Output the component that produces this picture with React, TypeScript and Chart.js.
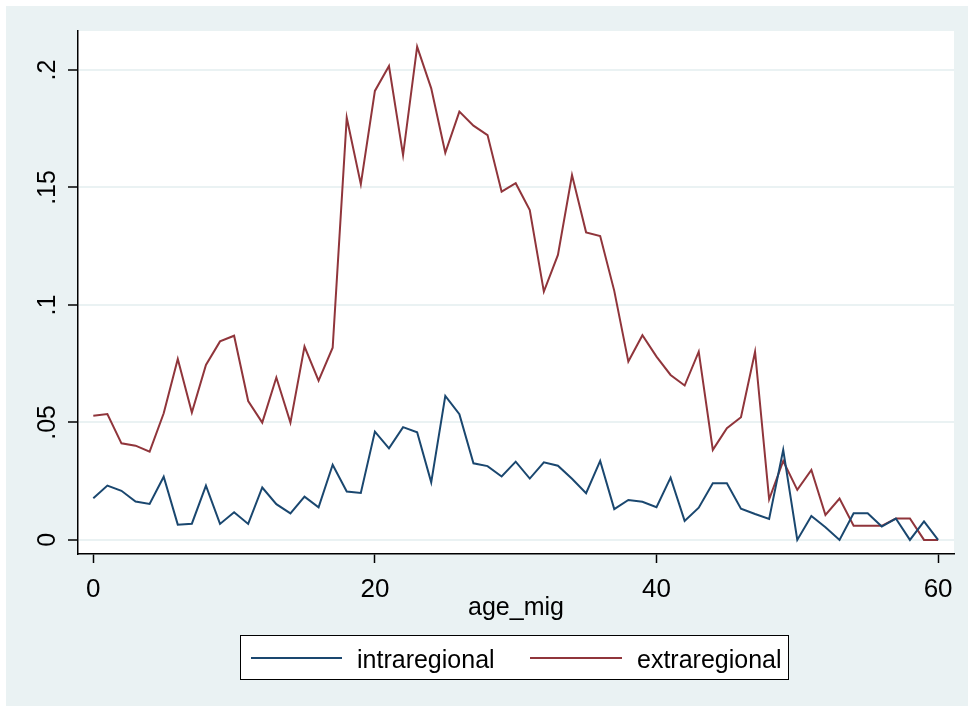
import React, { useEffect, useRef } from 'react';
import { Chart, registerables } from 'chart.js';

Chart.register(...registerables);

const ages = [
  0, 1, 2, 3, 4, 5, 6, 7, 8, 9, 10, 11, 12, 13, 14, 15, 16, 17, 18, 19, 20,
  21, 22, 23, 24, 25, 26, 27, 28, 29, 30, 31, 32, 33, 34, 35, 36, 37, 38, 39, 40,
  41, 42, 43, 44, 45, 46, 47, 48, 49, 50, 51, 52, 53, 54, 55, 56, 57, 58, 59, 60,
];

const intraregional = [
  0.0177, 0.0231, 0.0209, 0.0163, 0.0153, 0.0269, 0.0065, 0.0069, 0.0231, 0.0068,
  0.0118, 0.0068, 0.0223, 0.0152, 0.0113, 0.0184, 0.0139, 0.032, 0.0206, 0.02,
  0.0461, 0.039, 0.048, 0.0458, 0.0245, 0.0613, 0.0535, 0.0326, 0.0314, 0.027,
  0.0333, 0.0261, 0.033, 0.0316, 0.026, 0.0199, 0.0336, 0.0131, 0.017, 0.0162,
  0.0139, 0.0265, 0.0081, 0.0137, 0.0241, 0.0241, 0.0133, 0.011, 0.0089, 0.0383,
  0, 0.0102, 0.0054, 0, 0.0113, 0.0113, 0.0057, 0.0091, 0, 0.0079,
  0,
];

const extraregional = [
  0.0528, 0.0536, 0.0411, 0.0401, 0.0376, 0.0539, 0.077, 0.0542, 0.0745, 0.0845,
  0.0869, 0.0591, 0.0499, 0.0691, 0.0499, 0.0823, 0.0678, 0.0818, 0.1797, 0.1514,
  0.1911, 0.2017, 0.1638, 0.2099, 0.1922, 0.1648, 0.1823, 0.1763, 0.1723, 0.1482,
  0.1518, 0.1404, 0.1057, 0.1213, 0.1553, 0.1309, 0.1293, 0.106, 0.0759, 0.0871,
  0.078, 0.0702, 0.0657, 0.0801, 0.0383, 0.0475, 0.0522, 0.0801, 0.0173, 0.0336,
  0.0213, 0.0298, 0.0106, 0.0176, 0.006, 0.006, 0.006, 0.0091, 0.0091, 0,
  0,
];

const seriesLabels = ['intraregional', 'extraregional'];
const seriesColors = ['#1a476f', '#90353b'];
const xTickValues = [0, 20, 40, 60];
const xTickLabels = ['0', '20', '40', '60'];
const yTickValues = [0, 0.05, 0.1, 0.15, 0.2];
const yTickLabels = ['0', '.05', '.1', '.15', '.2'];
const xTitle = 'age_mig';

const FONT = '"Liberation Sans", Arial, Helvetica, sans-serif';
const BG = '#eaf2f3';

export default function App() {
  const ref = useRef<HTMLCanvasElement>(null);

  useEffect(() => {
    const canvas = ref.current;
    if (!canvas) return;

    const stataPlugin = {
      id: 'stataDecor',
      beforeDraw(chart: any) {
        const ctx = chart.ctx;
        const { left, top, right, bottom } = chart.chartArea;
        ctx.save();
        ctx.fillStyle = '#ffffff';
        ctx.fillRect(0, 0, chart.width, chart.height);
        ctx.fillStyle = BG;
        ctx.fillRect(6, 6, chart.width - 6, chart.height - 6);
        ctx.fillStyle = '#ffffff';
        ctx.fillRect(left, top, right - left, bottom - top);
        ctx.restore();
      },
      afterDraw(chart: any) {
        const ctx = chart.ctx;
        const ys = chart.scales.y;
        ctx.save();
        // rotated y tick labels
        ctx.fillStyle = '#000';
        ctx.font = `25px ${FONT}`;
        ctx.textAlign = 'center';
        ctx.textBaseline = 'middle';
        yTickValues.forEach((v, i) => {
          const py = ys.getPixelForValue(v);
          ctx.save();
          ctx.translate(48, py);
          ctx.rotate(-Math.PI / 2);
          ctx.fillText(yTickLabels[i], 0, 0);
          ctx.restore();
        });
        // legend box
        const bx = 240.5, by = 635.5, bw = 548, bh = 44;
        ctx.fillStyle = '#ffffff';
        ctx.fillRect(bx, by, bw, bh);
        ctx.strokeStyle = '#000';
        ctx.lineWidth = 1;
        ctx.strokeRect(bx, by, bw, bh);
        const slots = [
          { x1: 251, x2: 342, tx: 357 },
          { x1: 530, x2: 622, tx: 637 },
        ];
        chart.data.datasets.forEach((ds: any, i: number) => {
          const s = slots[i];
          ctx.strokeStyle = ds.borderColor;
          ctx.lineWidth = 2;
          ctx.beginPath();
          ctx.moveTo(s.x1, 658);
          ctx.lineTo(s.x2, 658);
          ctx.stroke();
          ctx.fillStyle = '#000';
          ctx.font = `25px ${FONT}`;
          ctx.textAlign = 'left';
          ctx.textBaseline = 'alphabetic';
          ctx.fillText(ds.label, s.tx, 668);
        });
        ctx.restore();
      },
    };

    const chart = new Chart(canvas, {
      type: 'line',
      data: {
        datasets: [
          {
            label: seriesLabels[0],
            data: ages.map((a, i) => ({ x: a, y: intraregional[i] })),
            borderColor: seriesColors[0],
            backgroundColor: seriesColors[0],
            borderWidth: 2,
            pointRadius: 0,
            tension: 0,
            fill: false,
          },
          {
            label: seriesLabels[1],
            data: ages.map((a, i) => ({ x: a, y: extraregional[i] })),
            borderColor: seriesColors[1],
            backgroundColor: seriesColors[1],
            borderWidth: 2,
            pointRadius: 0,
            tension: 0,
            fill: false,
          },
        ],
      },
      options: {
        responsive: false,
        animation: false,
        devicePixelRatio: 1,
        layout: { padding: { left: 0, top: 31, right: 14, bottom: 72 } },
        plugins: {
          legend: { display: false },
          tooltip: { enabled: false },
          title: { display: false },
        },
        scales: {
          x: {
            type: 'linear',
            min: -1.087,
            max: 61.13,
            afterBuildTicks: (s: any) => {
              s.ticks = xTickValues.map((v) => ({ value: v }));
            },
            afterFit: (s: any) => {
              s.height = 80;
            },
            grid: {
              drawOnChartArea: false,
              drawTicks: true,
              tickLength: 9,
              tickColor: '#000',
              tickWidth: 1.5,
            },
            border: { display: true, color: '#000', width: 1.5 },
            ticks: {
              font: { family: FONT, size: 26 },
              color: '#000',
              padding: 11,
              maxRotation: 0,
              minRotation: 0,
              autoSkip: false,
              callback: (v: any) => {
                const k = xTickValues.indexOf(Number(v));
                return k >= 0 ? xTickLabels[k] : '';
              },
            },
            title: {
              display: true,
              text: xTitle,
              font: { family: FONT, size: 25 },
              color: '#000',
              padding: { top: 0, bottom: 11 },
            },
          },
          y: {
            type: 'linear',
            min: -0.006,
            max: 0.2166,
            afterBuildTicks: (s: any) => {
              s.ticks = yTickValues.map((v) => ({ value: v }));
            },
            afterFit: (s: any) => {
              s.width = 78;
            },
            grid: {
              color: BG,
              lineWidth: 2,
              drawTicks: true,
              tickLength: 10,
              tickColor: '#000',
              tickWidth: 1.5,
            },
            border: { display: true, color: '#000', width: 1.5 },
            ticks: { display: false },
          },
        },
      },
      plugins: [stataPlugin],
    } as any);

    return () => {
      chart.destroy();
    };
  }, []);

  return (
    <div style={{ position: 'absolute', left: 0, top: 0, width: 968, height: 706 }}>
      <canvas ref={ref} width={968} height={706} style={{ display: 'block' }} />
    </div>
  );
}
